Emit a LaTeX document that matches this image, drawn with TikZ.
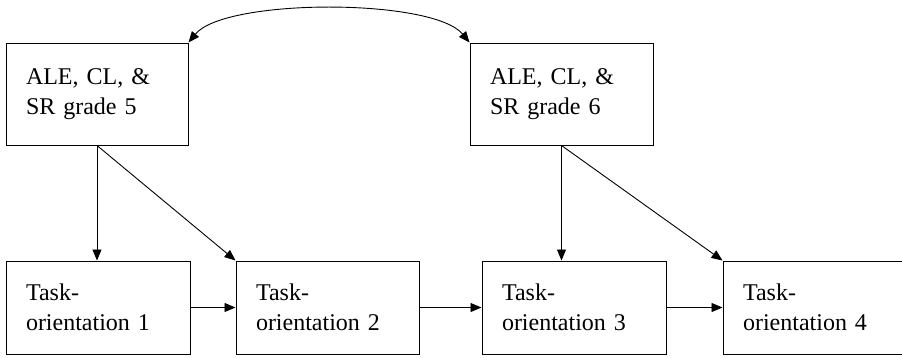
\documentclass[tikz,border=0pt]{standalone}
\usepackage{fontspec}
\setmainfont{Liberation Serif}
\usetikzlibrary{arrows.meta}
\begin{document}
\begin{tikzpicture}[x=1pt,y=-1pt,
  box/.style={draw,line width=1pt,rectangle,inner xsep=20pt,inner ysep=0pt,
    align=left,anchor=center,font=\fontsize{24}{30}\selectfont},
  topbox/.style={box,minimum height=102pt,text width=143pt},
  taskbox/.style={box,minimum height=93pt,text width=144pt},
  tip/.tip={Triangle[length=11pt,width=9pt]},
  link/.style={line width=0.9pt,-tip},
  twoway/.style={line width=0.9pt,tip-tip}]
  \useasboundingbox (0,0) rectangle (902,357);
  % outcome-predictor boxes
  \node[topbox,text width=142pt] (a5) at (97,94) {ALE, CL, \&\\SR grade 5};
  \node[topbox] (a6) at (561.5,94) {ALE, CL, \&\\SR grade 6};
  % task-orientation chain
  \node[taskbox] (t1) at (98,307.5) {Task-\\orientation 1};
  \node[taskbox,text width=143pt] (t2) at (327.5,307.5) {Task-\\orientation 2};
  \node[taskbox] (t3) at (574,307.5) {Task-\\orientation 3};
  \node[taskbox,text width=140pt] (t4) at (813,307.5) {Task-\\orientation 4};
  % correlation between the two grades
  \draw[twoway] (a5.north east) .. controls (225,-2) and (433,-2) .. (a6.north west);
  % paths from grade measures to task orientation
  \draw[link] (a5.south) -- (t1.north -| a5.south);
  \draw[link] (a5.south) -- (t2.north west);
  \draw[link] (a6.south) -- (t3.north -| a6.south);
  \draw[link] (a6.south) -- (t4.north west);
  % stability paths
  \draw[link] (t1) -- (t2);
  \draw[link] (t2) -- (t3);
  \draw[link] (t3) -- (t4);
\end{tikzpicture}
\end{document}
